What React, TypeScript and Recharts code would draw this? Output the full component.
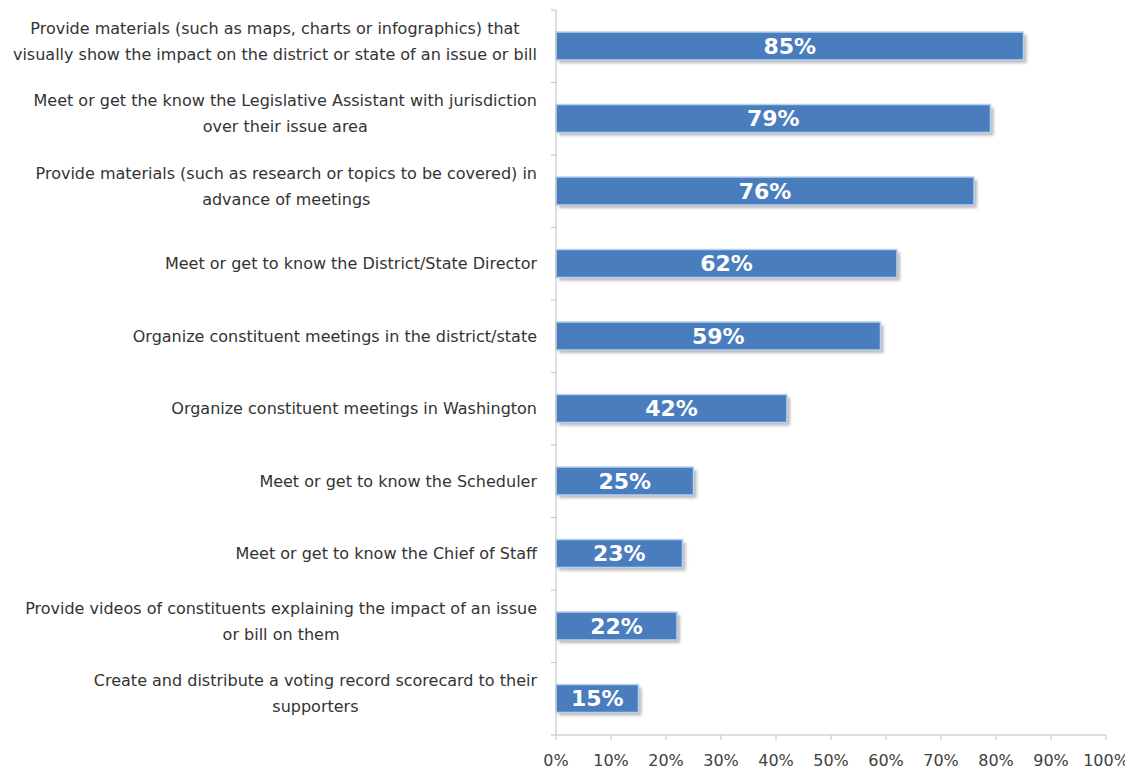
import React from 'react';
import { Bar, BarChart, LabelList, XAxis, YAxis } from 'recharts';

const categories = [
  'Provide materials (such as maps, charts or infographics) that\nvisually show the impact on the district or state of an issue or bill',
  'Meet or get the know the Legislative Assistant with jurisdiction\nover their issue area',
  'Provide materials (such as research or topics to be covered) in\nadvance of meetings',
  'Meet or get to know the District/State Director',
  'Organize constituent meetings in the district/state',
  'Organize constituent meetings in Washington',
  'Meet or get to know the Scheduler',
  'Meet or get to know the Chief of Staff',
  'Provide videos of constituents explaining the impact of an issue\nor bill on them',
  'Create and distribute a voting record scorecard to their\nsupporters',
];
const values = [85, 79, 76, 62, 59, 42, 25, 23, 22, 15];
const xTicks = [0, 10, 20, 30, 40, 50, 60, 70, 80, 90, 100];

const data = categories.map((name, i) => ({ name, value: values[i] }));

const W = 1125;
const H = 768;
const TOP = 2;
const X_H = 41;
const Y_W = 548;
const BAND = (H - TOP - X_H) / categories.length;
const LABEL_FONT = '16px "DejaVu Sans"';

let measureCtx: CanvasRenderingContext2D | null = null;
const measure = (s: string) => {
  if (!measureCtx) {
    measureCtx = document.createElement('canvas').getContext('2d');
  }
  if (!measureCtx) return s.length * 8;
  measureCtx.font = LABEL_FONT;
  return measureCtx.measureText(s).width;
};

const CategoryTick = (props: any) => {
  const { y, payload, index } = props;
  const lines: string[] = String(payload.value).split('\n');
  const blockW = Math.max(...lines.map(measure));
  const right = Y_W - 19;
  const cx = right - blockW / 2;
  const lh = 26;
  const y0 = y - ((lines.length - 1) * lh) / 2 - (lines.length > 1 ? 5 : 0);
  return (
    <g>
      <line x1={Y_W - 5} x2={Y_W} y1={y - BAND / 2} y2={y - BAND / 2} stroke="#bfbfbf" />
      {index === categories.length - 1 && (
        <line x1={Y_W - 5} x2={Y_W} y1={y + BAND / 2} y2={y + BAND / 2} stroke="#bfbfbf" />
      )}
      {lines.map((ln, i) => (
        <text
          key={i}
          x={cx}
          y={y0 + i * lh}
          textAnchor="middle"
          dominantBaseline="central"
          fill="#333333"
          style={{ font: LABEL_FONT }}
        >
          {ln}
        </text>
      ))}
    </g>
  );
};

const ShadowBar = (props: any) => {
  const { x, y, width, height, index } = props;
  const id = `shadow-${index}`;
  return (
    <g>
      <defs>
        <filter id={id} x="-10%" y="-30%" width="120%" height="160%">
          <feGaussianBlur stdDeviation="1.5" />
        </filter>
      </defs>
      <rect x={x + 3} y={y + 3} width={width} height={height} fill="#8a8a8a" opacity={0.6} filter={`url(#${id})`} />
      <rect x={x} y={y} width={width} height={height} fill="#4a7dbd" stroke="#b7d2f0" strokeWidth={1.5} />
    </g>
  );
};

export default function App() {
  return (
    <div style={{ width: W, height: H, background: '#fff' }}>
      <BarChart
        width={W}
        height={H}
        data={data}
        layout="vertical"
        margin={{ top: TOP, right: W - Y_W - 550, bottom: 0, left: 0 }}
      >
        <XAxis
          type="number"
          domain={[0, 100]}
          ticks={xTicks}
          tickFormatter={(v: number) => `${v}%`}
          height={X_H}
          axisLine={{ stroke: '#bfbfbf' }}
          tickLine={{ stroke: '#bfbfbf' }}
          tickSize={5}
          tickMargin={15}
          tick={{ fill: '#404040', fontSize: 16, fontFamily: 'DejaVu Sans' }}
          interval={0}
        />
        <YAxis
          type="category"
          dataKey="name"
          width={Y_W}
          axisLine={{ stroke: '#bfbfbf' }}
          tickLine={false}
          tick={<CategoryTick />}
          interval={0}
        />
        <Bar dataKey="value" barSize={28} shape={<ShadowBar />} isAnimationActive={false}>
          <LabelList
            dataKey="value"
            position="center"
            formatter={(v: any) => `${v}%`}
            fill="#ffffff"
            style={{ fontSize: 22, fontWeight: 700, fontFamily: 'DejaVu Sans' }}
          />
        </Bar>
      </BarChart>
    </div>
  );
}
